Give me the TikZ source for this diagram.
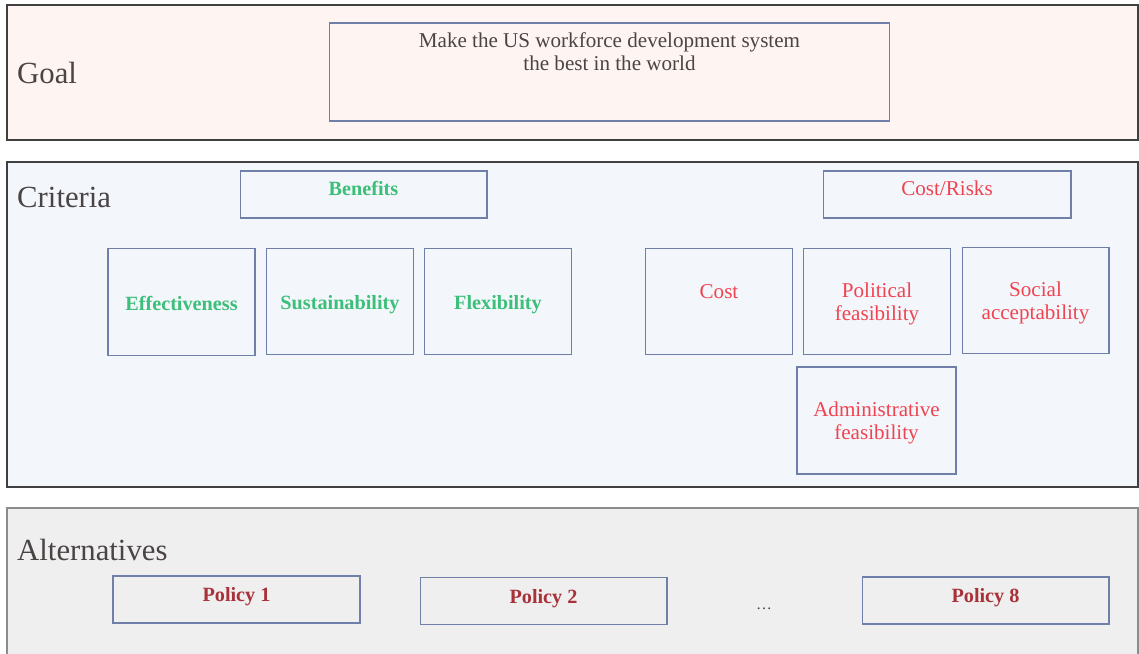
\documentclass[tikz,border=0pt]{standalone}
\usepackage{fontspec}
\setmainfont{Liberation Serif}
\usetikzlibrary{positioning}
\definecolor{goalbg}{HTML}{FEF5F3}
\definecolor{critbg}{HTML}{F3F6FB}
\definecolor{altbg}{HTML}{EFEFEF}
\definecolor{boxline}{HTML}{6F7FA8}
\definecolor{labelgray}{HTML}{4A4444}
\definecolor{benefitgreen}{HTML}{3CBF78}
\definecolor{riskred}{HTML}{EF4450}
\definecolor{policyred}{HTML}{A8323A}

\begin{document}
\begin{tikzpicture}[x=0.02cm, y=-0.02cm,
        panel/.style={draw=#1, line width=0.7pt},
        titulo/.style={anchor=west, text=labelgray, font=\fontsize{17.5}{21}\selectfont},
        caja/.style={rectangle, draw=boxline, line width=0.6pt, align=center, inner sep=0pt,
            text depth=0pt, font=\fontsize{12}{13.3}\selectfont},
        ben/.style={caja, text=benefitgreen, font=\fontsize{11.5}{13}\selectfont\bfseries},
        risk/.style={caja, text=riskred},
        pol/.style={caja, text=policyred, font=\fontsize{11.5}{13}\selectfont\bfseries,
            minimum width=4.94cm, minimum height=0.94cm, text depth=5.7pt},
        sub/.style={minimum width=2.94cm, minimum height=2.13cm},
        bensub/.style={ben, sub, text height=9.1pt}]
        \useasboundingbox (0,0) rectangle (1139,653);

        % three bands
        \draw[panel=black!75, fill=goalbg] (7,5) rectangle (1138,140);
        \draw[panel=black!75, fill=critbg] (7,162) rectangle (1138,487);
        \draw[panel=black!45, fill=altbg] (7,508) rectangle (1138,670);

        \node[titulo] (tgoal) at (11,73) {Goal};
        \node[titulo] (tcrit) at (11,197) {Criteria};
        \node[titulo] (talt) at (11,550) {Alternatives};

        % goal
        \node[caja, text=labelgray, minimum width=11.22cm, minimum height=1.96cm, text depth=23pt]
            (goal) at (609.5,72) {Make the US workforce development system\\the best in the world};

        % criteria
        \node[ben, minimum width=4.94cm, minimum height=0.94cm, text depth=6.7pt] (benefits) at (363.5,194.5) {Benefits};
        \node[risk, minimum width=4.96cm, minimum height=0.94cm, text depth=6.7pt] (costrisk) at (947,194.5) {Cost/Risks};

        \node[bensub] (eff) at (181.5,302) {Effectiveness};
        \node[bensub] (sus) at (340,301.5) {Sustainability};
        \node[bensub] (flex) at (498,301.5) {Flexibility};

        \node[risk, sub, text depth=11.7pt] (cost) at (719,301.5) {Cost};
        \node[risk, sub] (polit) at (877,301.5) {Political\\feasibility};
        \node[risk, sub] (social) at (1035.5,300.5) {Social\\acceptability};
        \node[risk, minimum width=3.18cm, minimum height=2.14cm] (admin) at (876.5,420.5) {Administrative\\feasibility};

        % alternatives
        \node[pol] (p1) at (236.5,599.5) {Policy 1};
        \node[pol] (p2) at (543.5,601) {Policy 2};
        \node[pol] (p8) at (985.5,600.5) {Policy 8};
        \node[text=labelgray, font=\small] (dots) at (764,609) {\dots};
    \end{tikzpicture}
\end{document}
